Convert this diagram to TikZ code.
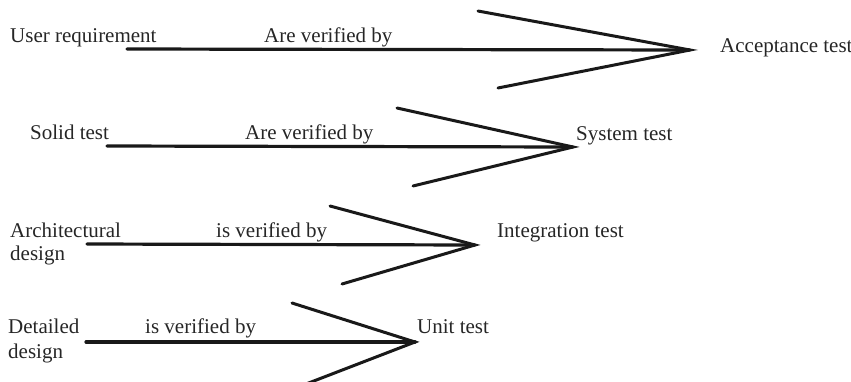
\documentclass[tikz,border=0pt]{standalone}
\usepackage{fontspec}
\setmainfont{Liberation Serif}
\begin{document}
\begin{tikzpicture}[x=1pt,y=-1pt,
  lbl/.style={anchor=base west,inner sep=0pt,text=black!85,font=\fontsize{21}{24}\selectfont},
  stem/.style={line width=3.2pt,draw=black!90,line cap=round},
  barb/.style={line width=3pt,draw=black!90,line cap=round}]
\useasboundingbox (0,0) rectangle (851,381);
\clip (0,0) rectangle (851,381);

% ---- Row 1: user requirement -> acceptance test
\node[lbl] (ur)  at (10,42)  {User requirement};
\node[lbl] (v1)  at (264,42) {Are verified by};
\node[lbl] (at)  at (720,52) {Acceptance test};
\coordinate (s1) at (127,49);
\coordinate (t1) at (690,50);
\coordinate (u1) at (478,11);
\coordinate (d1) at (498,88);
\draw[stem] (s1) -- (t1);
\draw[barb] (u1) -- (t1) -- (d1);

% ---- Row 2: solid test -> system test
\node[lbl] (sd)  at (30,139)  {Solid test};
\node[lbl] (v2)  at (245,139) {Are verified by};
\node[lbl] (st)  at (576,140) {System test};
\coordinate (s2) at (107,146);
\coordinate (t2) at (573,147);
\coordinate (u2) at (397,108);
\coordinate (d2) at (413,186);
\draw[stem] (s2) -- (t2);
\draw[barb] (u2) -- (t2) -- (d2);

% ---- Row 3: architectural design -> integration test
\node[lbl] (ad1) at (10,237)  {Architectural};
\node[lbl] (ad2) at (10,260)  {design};
\node[lbl] (v3)  at (216,237) {is verified by};
\node[lbl] (it)  at (497,237) {Integration test};
\coordinate (s3) at (87,244);
\coordinate (t3) at (475,245);
\coordinate (u3) at (330,206);
\coordinate (d3) at (342,284);
\draw[stem] (s3) -- (t3);
\draw[barb] (u3) -- (t3) -- (d3);

% ---- Row 4: detailed design -> unit test
\node[lbl] (dd1) at (8,333)   {Detailed};
\node[lbl] (dd2) at (8,358)   {design};
\node[lbl] (v4)  at (145,333) {is verified by};
\node[lbl] (ut)  at (417,333) {Unit test};
\coordinate (s4) at (86,342);
\coordinate (t4) at (415,342);
\coordinate (u4) at (292,303);
\coordinate (d4) at (306,384);
\draw[stem] (s4) -- (t4);
\draw[barb] (u4) -- (t4) -- (d4);
\end{tikzpicture}
\end{document}
